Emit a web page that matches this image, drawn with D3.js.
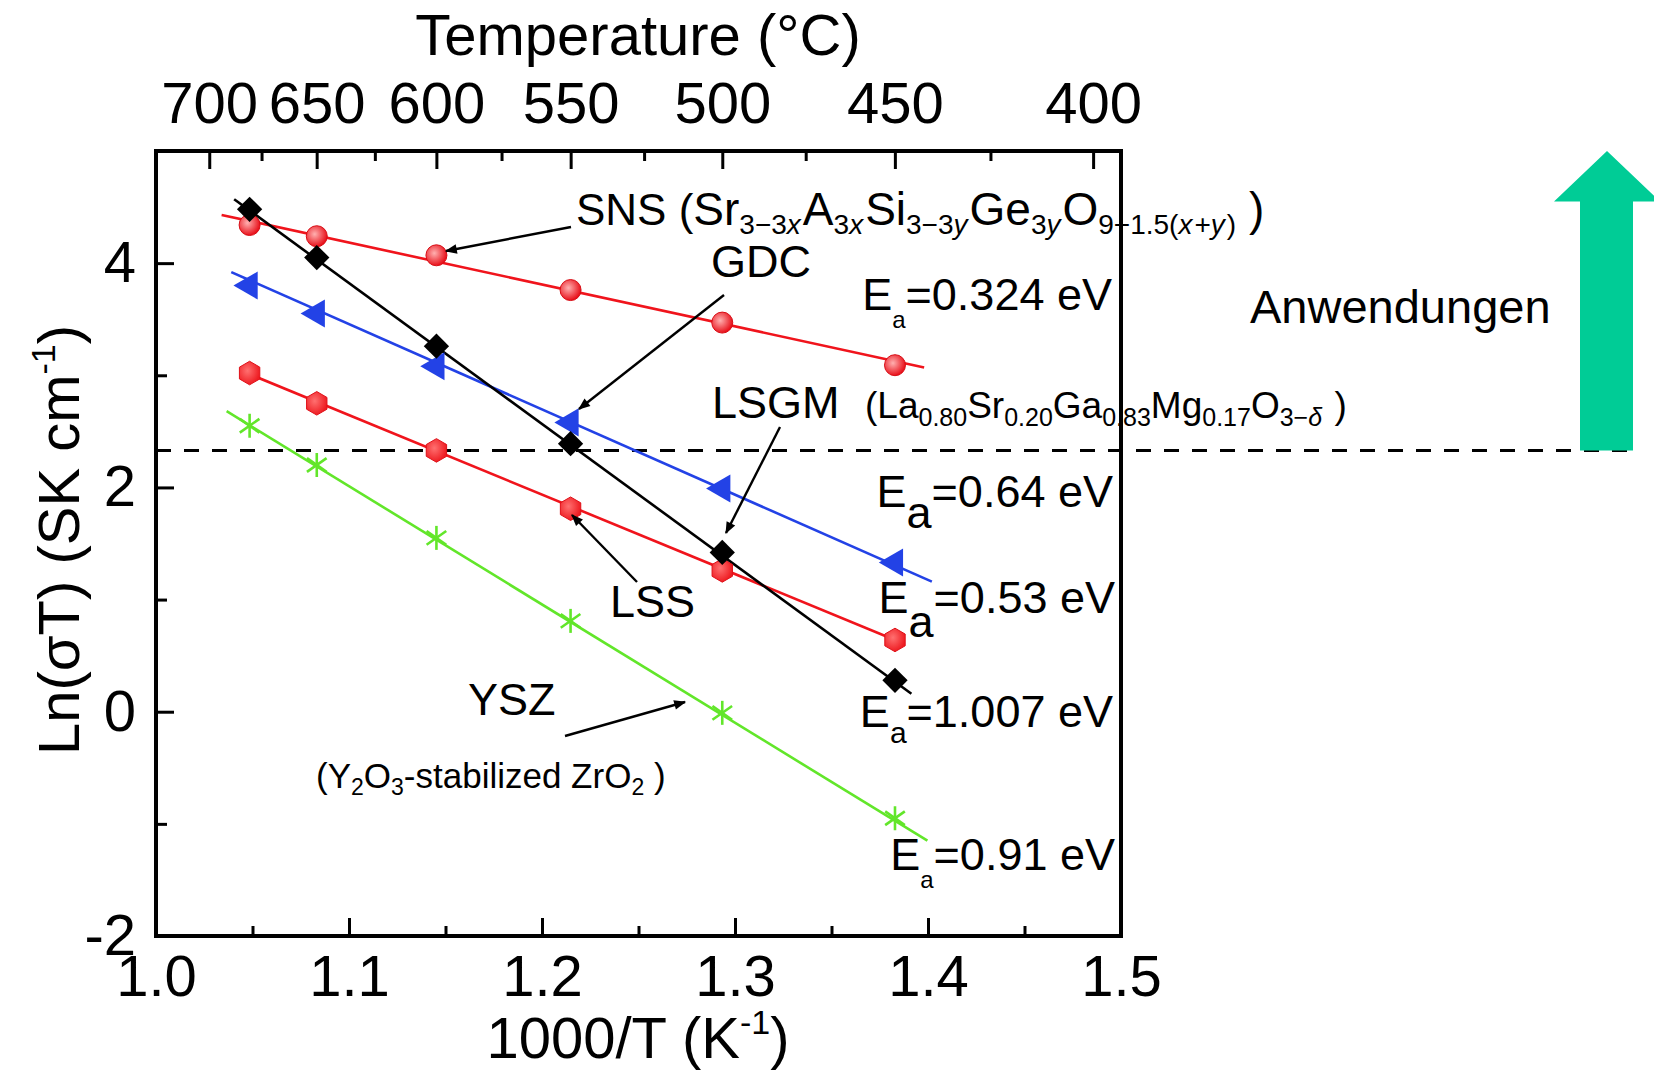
<!DOCTYPE html>
<html>
<head>
<meta charset="utf-8">
<script src="https://cdn.jsdelivr.net/npm/d3@7"></script>
<style>
body { margin: 0; background: #fff; }
svg text { font-family: "Liberation Sans", Arial, sans-serif; fill: #000; }
</style>
</head>
<body>
<svg id="chart"></svg>
<script>
// values
var invT = [1.0485, 1.0833, 1.1453, 1.2148, 1.2934, 1.3829];   // 1000/T of the points
var snsY = [4.34, 4.24, 4.07, 3.76, 3.47, 3.09];
var gdcY = [3.80, 3.55, 3.08, 2.58, 1.99, 1.33];
var lsgmY = [4.48, 4.05, 3.26, 2.39, 1.42, 0.28];
var lssY = [3.02, 2.75, 2.33, 1.81, 1.26, 0.64];
var yszY = [2.55, 2.20, 1.55, 0.81, -0.01, -0.95];

// fit line ends
var snsFitX = [1.034, 1.398], snsFitY = [4.43, 3.07];
var gdcFitX = [1.039, 1.402], gdcFitY = [3.92, 1.16];
var lsgmFitX = [1.0405, 1.3914], lsgmFitY = [4.57, 0.16];
var lssFitX = [1.0485, 1.3829], lssFitY = [3.01, 0.64];
var yszFitX = [1.0366, 1.3997], yszFitY = [2.68, -1.15];

var xMajor = [1.0, 1.1, 1.2, 1.3, 1.4, 1.5];
var xMinor = [1.05, 1.15, 1.25, 1.35, 1.45];
var yMajor = [-2, 0, 2, 4];
var yMinor = [-1, 1, 3];
var tempMajor = [700, 650, 600, 550, 500, 450, 400];
var tempMinor = [675, 625, 575, 525, 475, 425];
var threshold = 2.33;

var width = 1654, height = 1081;
var svg = d3.select('#chart').attr('width', width).attr('height', height);

var x = d3.scaleLinear().domain([1.0, 1.5]).range([156, 1121]);
var y = d3.scaleLinear().domain([-2, 5]).range([936, 151]);
var toInv = function(t) { return 1000 / (t + 273.15); };

var red = '#f0141c', blue = '#2342e6', green = '#62e62a';

var defs = svg.append('defs');
function radial(id, c1, c2) {
    var g = defs.append('radialGradient').attr('id', id)
        .attr('cx', '40%').attr('cy', '40%').attr('r', '60%');
    g.append('stop').attr('offset', '0%').attr('stop-color', c1);
    g.append('stop').attr('offset', '100%').attr('stop-color', c2);
}
radial('gRed', '#ffb0b0', '#e8101a');
radial('gHex', '#ff7070', '#ee1c22');
defs.append('marker').attr('id', 'arr')
    .attr('viewBox', '0 0 10 10').attr('refX', 9).attr('refY', 5)
    .attr('markerWidth', 6).attr('markerHeight', 5).attr('markerUnits', 'strokeWidth')
    .attr('orient', 'auto')
    .append('path').attr('d', 'M0,1 L10,5 L0,9 Z').attr('fill', '#000');

// axes
function styleAxis(g) {
    g.select('.domain').remove();
    g.selectAll('line').attr('stroke', '#000').attr('stroke-width', 3);
    g.selectAll('text').attr('font-size', 58).attr('font-family', '"Liberation Sans", Arial, sans-serif');
}
function minorAxis(g) {
    styleAxis(g);
    g.selectAll('text').remove();
}
svg.append('g').attr('transform', 'translate(0,936)')
    .call(d3.axisBottom(x).tickValues(xMajor).tickFormat(d3.format('.1f')).tickSizeInner(-18).tickSizeOuter(0).tickPadding(19))
    .call(styleAxis);
svg.append('g').attr('transform', 'translate(0,936)')
    .call(d3.axisBottom(x).tickValues(xMinor).tickSizeInner(-10).tickSizeOuter(0))
    .call(minorAxis);
svg.append('g').attr('transform', 'translate(156,0)')
    .call(d3.axisLeft(y).tickValues(yMajor).tickFormat(function(d) { return String(d); }).tickSizeInner(-18).tickSizeOuter(0).tickPadding(20))
    .call(styleAxis);
svg.append('g').attr('transform', 'translate(156,0)')
    .call(d3.axisLeft(y).tickValues(yMinor).tickSizeInner(-11).tickSizeOuter(0))
    .call(minorAxis);
svg.append('g').attr('transform', 'translate(0,151)')
    .call(d3.axisTop(x).tickValues(tempMajor.map(toInv)).tickFormat(function(d) { return Math.round(1000 / d - 273.15); })
        .tickSizeInner(-18).tickSizeOuter(0).tickPadding(28))
    .call(styleAxis);
svg.append('g').attr('transform', 'translate(0,151)')
    .call(d3.axisTop(x).tickValues(tempMinor.map(toInv)).tickSizeInner(-10).tickSizeOuter(0))
    .call(minorAxis);

// frame
svg.append('rect').attr('x', 156).attr('y', 151).attr('width', 965).attr('height', 785)
    .attr('fill', 'none').attr('stroke', '#000').attr('stroke-width', 4);

// axis titles
svg.append('text').attr('x', 638).attr('y', 55).attr('text-anchor', 'middle')
    .attr('font-size', 58).text('Temperature (\u00b0C)');
var bt = svg.append('text').attr('x', 638).attr('y', 1058).attr('text-anchor', 'middle').attr('font-size', 58);
bt.append('tspan').text('1000/T (K');
bt.append('tspan').attr('font-size', 34).attr('dy', -24).text('-1');
bt.append('tspan').attr('dy', 24).text(')');
var lt = svg.append('text').attr('transform', 'translate(79,540) rotate(-90)').attr('text-anchor', 'middle').attr('font-size', 58);
lt.append('tspan').text('Ln(\u03c3T) (SK cm');
lt.append('tspan').attr('font-size', 34).attr('dy', -24).text('-1');
lt.append('tspan').attr('dy', 24).text(')');

// threshold line
svg.append('line').attr('x1', 156).attr('x2', 1633).attr('y1', y(threshold)).attr('y2', y(threshold))
    .attr('stroke', '#000').attr('stroke-width', 3).attr('stroke-dasharray', '15,13');

// fit lines
var fits = [
    [snsFitX, snsFitY, red], [gdcFitX, gdcFitY, blue], [lssFitX, lssFitY, red],
    [yszFitX, yszFitY, green], [lsgmFitX, lsgmFitY, '#000']
];
fits.forEach(function(f) {
    svg.append('line')
        .attr('x1', x(f[0][0])).attr('y1', y(f[1][0]))
        .attr('x2', x(f[0][1])).attr('y2', y(f[1][1]))
        .attr('stroke', f[2]).attr('stroke-width', 2.6);
});

// markers
var hexagon = { draw: function(ctx, size) {
    var r = Math.sqrt(size / 2.598);
    for (var i = 0; i < 6; i++) {
        var a = Math.PI / 2 + i * Math.PI / 3;
        if (i === 0) ctx.moveTo(r * Math.cos(a), r * Math.sin(a));
        else ctx.lineTo(r * Math.cos(a), r * Math.sin(a));
    }
    ctx.closePath();
}};
function pts(ys) { return ys.map(function(v, i) { return [invT[i], v]; }); }

svg.selectAll('.ysz').data(pts(yszY)).enter().append('g').attr('class', 'ysz')
    .attr('transform', function(d) { return 'translate(' + x(d[0]) + ',' + y(d[1]) + ')'; })
    .each(function() {
        var g = d3.select(this);
        [90, 35, 145].forEach(function(a) {
            var r = 12, c = Math.cos(a * Math.PI / 180) * r, s = Math.sin(a * Math.PI / 180) * r;
            g.append('line').attr('x1', -c).attr('y1', -s).attr('x2', c).attr('y2', s)
                .attr('stroke', green).attr('stroke-width', 2.6);
        });
    });
svg.selectAll('.lss').data(pts(lssY)).enter().append('path').attr('class', 'lss')
    .attr('d', d3.symbol().type(hexagon).size(360))
    .attr('transform', function(d) { return 'translate(' + x(d[0]) + ',' + y(d[1]) + ')'; })
    .attr('fill', 'url(#gHex)').attr('stroke', '#e01018').attr('stroke-width', 1);
svg.selectAll('.gdc').data(pts(gdcY)).enter().append('path').attr('class', 'gdc')
    .attr('d', d3.symbol().type(d3.symbolTriangle).size(340))
    .attr('transform', function(d) { return 'translate(' + x(d[0]) + ',' + y(d[1]) + ') rotate(-90)'; })
    .attr('fill', blue);
svg.selectAll('.sns').data(pts(snsY)).enter().append('circle').attr('class', 'sns')
    .attr('cx', function(d) { return x(d[0]); }).attr('cy', function(d) { return y(d[1]); })
    .attr('r', 10.5).attr('fill', 'url(#gRed)').attr('stroke', '#d80c14').attr('stroke-width', 1);
svg.selectAll('.lsgm').data(pts(lsgmY)).enter().append('path').attr('class', 'lsgm')
    .attr('d', d3.symbol().type(d3.symbolSquare).size(320))
    .attr('transform', function(d) { return 'translate(' + x(d[0]) + ',' + y(d[1]) + ') rotate(45)'; })
    .attr('fill', '#000');

// annotation arrows
var arrows = [
    [571, 227, 446, 251], [724, 295, 579, 409], [780, 427, 726, 533],
    [637, 582, 572, 515], [565, 736, 685, 702]
];
arrows.forEach(function(a) {
    svg.append('line').attr('x1', a[0]).attr('y1', a[1]).attr('x2', a[2]).attr('y2', a[3])
        .attr('stroke', '#000').attr('stroke-width', 2.4).attr('marker-end', 'url(#arr)');
});

// rich labels: parts = [text, size, offset below baseline, italic]
function rich(px, py, parts, anchor) {
    var t = svg.append('text').attr('x', px).attr('y', py).attr('text-anchor', anchor || 'start');
    var prev = 0, lastItalic = false;
    parts.forEach(function(p) {
        var off = p[2] || 0;
        var s = t.append('tspan').attr('font-size', p[1]).attr('dy', off - prev).text(p[0]);
        if (lastItalic) s.attr('dx', 2);
        if (p[3]) s.attr('font-style', 'italic');
        lastItalic = !!p[3];
        prev = off;
    });
    return t;
}
var M = 46, S = 28;
rich(576, 225, [['SNS (', 44], ['Sr', M], ['3\u22123', S, 9], ['x', S, 9, 1], ['A', M], ['3', S, 9], ['x', S, 9, 1],
    ['Si', M], ['3\u22123', S, 9], ['y', S, 9, 1], ['Ge', M], ['3', S, 9], ['y', S, 9, 1], ['O', M],
    ['9\u22121.5(', S, 9], ['x', S, 9, 1], ['+', S, 9], ['y', S, 9, 1], [')', S, 9], [' )', M]]);
rich(711, 277, [['GDC', 45]]);
rich(712, 418, [['LSGM', 45]]);
rich(865, 418, [['(La', 37], ['0.80', 25, 8], ['Sr', 37], ['0.20', 25, 8], ['Ga', 37], ['0.83', 25, 8],
    ['Mg', 37], ['0.17', 25, 8], ['O', 37], ['3\u2212', 25, 8], ['\u03b4', 25, 8, 1], [' )', 37]]);
rich(610, 617, [['LSS', 45]]);
rich(468, 715, [['YSZ', 45]]);
rich(316, 788, [['(Y', 35], ['2', 23, 7], ['O', 35], ['3', 23, 7], ['-stabilized ZrO', 35], ['2', 23, 7], [' )', 35]]);

rich(1112, 310, [['E', 45], ['a', 24, 18], ['=0.324 eV', 45]], 'end');
rich(1113, 507, [['E', 45], ['a', 45, 21], ['=0.64 eV', 45]], 'end');
rich(1115, 613, [['E', 45], ['a', 45, 24], ['=0.53 eV', 45]], 'end');
rich(1113, 727, [['E', 45], ['a', 30, 16], ['=1.007 eV', 45]], 'end');
rich(1115, 870, [['E', 45], ['a', 24, 18], ['=0.91 eV', 45]], 'end');

// Anwendungen arrow
var yTop = y(5), yHead = y(4.55), yBot = y(threshold);
svg.append('path')
    .attr('d', 'M1607,' + yTop + ' L1660,' + yHead + ' L1633,' + yHead + ' L1633,' + yBot +
        ' L1580,' + yBot + ' L1580,' + yHead + ' L1554,' + yHead + ' Z')
    .attr('fill', '#00cc96');
svg.append('text').attr('x', 1250).attr('y', 323).attr('font-size', 47).text('Anwendungen');
</script>
</body>
</html>
